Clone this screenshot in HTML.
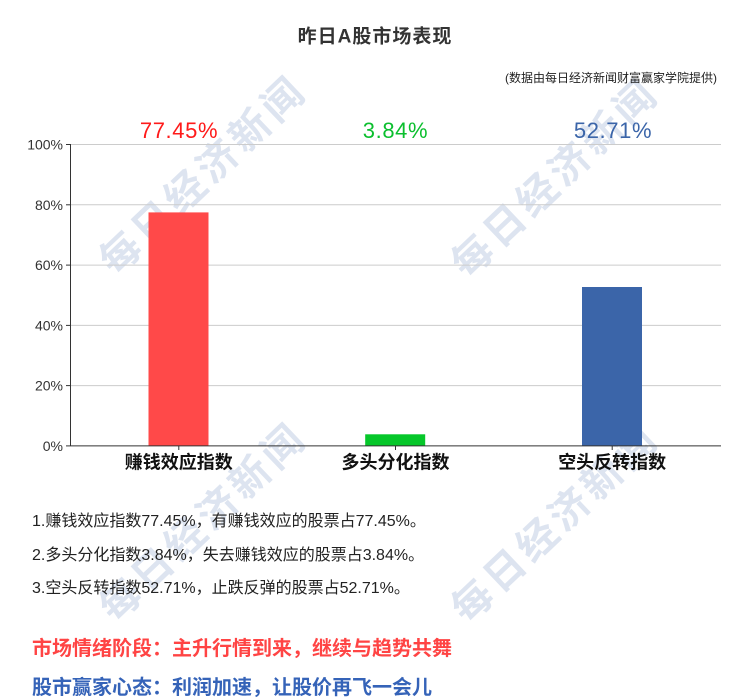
<!DOCTYPE html>
<html>
<head>
<meta charset="utf-8">
<style>
  html,body{margin:0;padding:0;background:#fff;}
  body{width:750px;height:699px;position:relative;overflow:hidden;
       font-family:"Liberation Sans","Noto Sans CJK SC",sans-serif;}
  svg{position:absolute;left:0;top:0;}
  .t{position:absolute;white-space:nowrap;}
  .line{left:32px;font-size:16px;line-height:20px;color:#222;}
  .big{left:32px;font-size:20px;line-height:24px;font-weight:bold;}
</style>
</head>
<body>
<svg width="750" height="699" viewBox="0 0 750 699" xmlns="http://www.w3.org/2000/svg">
  <!-- watermarks -->
  <g font-family="'Noto Sans CJK SC',sans-serif" font-weight="bold" font-size="40" fill="#dde4f0" text-anchor="middle" letter-spacing="4.6">
    <text x="0" y="14" transform="translate(203,175) rotate(-43.5)">每日经济新闻</text>
    <text x="0" y="14" transform="translate(555,178) rotate(-43.5)">每日经济新闻</text>
    <text x="0" y="14" transform="translate(203,522) rotate(-43.5)">每日经济新闻</text>
    <text x="0" y="14" transform="translate(555,523) rotate(-43.5)">每日经济新闻</text>
  </g>

  <!-- gridlines -->
  <g stroke="#cccccc" stroke-width="1">
    <line x1="70.5" y1="144.5" x2="721" y2="144.5"/>
    <line x1="70.5" y1="204.8" x2="721" y2="204.8"/>
    <line x1="70.5" y1="265.1" x2="721" y2="265.1"/>
    <line x1="70.5" y1="325.4" x2="721" y2="325.4"/>
    <line x1="70.5" y1="385.6" x2="721" y2="385.6"/>
  </g>

  <!-- bars -->
  <rect x="148.5" y="212.4" width="60" height="233.5" fill="#ff4949"/>
  <rect x="365.2" y="434.3" width="60" height="11.6" fill="#06c72a"/>
  <rect x="582" y="287" width="60" height="158.9" fill="#3b65a9"/>

  <!-- axes -->
  <g stroke="#333" stroke-width="1">
    <line x1="70.5" y1="144" x2="70.5" y2="446"/>
    <line x1="70.5" y1="445.9" x2="721" y2="445.9"/>
    <line x1="66" y1="144.5" x2="70.5" y2="144.5"/>
    <line x1="66" y1="204.8" x2="70.5" y2="204.8"/>
    <line x1="66" y1="265.1" x2="70.5" y2="265.1"/>
    <line x1="66" y1="325.4" x2="70.5" y2="325.4"/>
    <line x1="66" y1="385.6" x2="70.5" y2="385.6"/>
    <line x1="66" y1="445.9" x2="70.5" y2="445.9"/>
    <line x1="178.8" y1="446" x2="178.8" y2="450"/>
    <line x1="395.5" y1="446" x2="395.5" y2="450"/>
    <line x1="612.2" y1="446" x2="612.2" y2="450"/>
  </g>

  <!-- y labels -->
  <g font-family="'Liberation Sans',sans-serif" font-size="14" fill="#333" text-anchor="end">
    <text x="63" y="149.5">100%</text>
    <text x="63" y="209.8">80%</text>
    <text x="63" y="270.1">60%</text>
    <text x="63" y="330.4">40%</text>
    <text x="63" y="390.6">20%</text>
    <text x="63" y="450.9">0%</text>
  </g>

  <!-- category labels -->
  <g font-family="'Liberation Sans','Noto Sans CJK SC',sans-serif" font-size="18" font-weight="bold" fill="#111" text-anchor="middle">
    <text x="178.8" y="468.5">赚钱效应指数</text>
    <text x="395.5" y="468.5">多头分化指数</text>
    <text x="612.2" y="468.5">空头反转指数</text>
  </g>

  <!-- value labels -->
  <g font-family="'Liberation Sans',sans-serif" font-size="22" text-anchor="middle" letter-spacing="0.6">
    <text x="179" y="138" fill="#ff1a1a">77.45%</text>
    <text x="395.5" y="138" fill="#0bbf2e">3.84%</text>
    <text x="613" y="138" fill="#3b65a9">52.71%</text>
  </g>

  <!-- title -->
  <text x="375" y="42.5" text-anchor="middle" font-family="'Liberation Sans','Noto Sans CJK SC',sans-serif" font-size="19" font-weight="bold" fill="#333" letter-spacing="1">昨日A股市场表现</text>
  <!-- source -->
  <text x="717" y="82" text-anchor="end" font-family="'Liberation Sans','Noto Sans CJK SC',sans-serif" font-size="12" fill="#222">(数据由每日经济新闻财富赢家学院提供)</text>
</svg>

<div class="t line" style="top:512px;">1.赚钱效应指数77.45%，有赚钱效应的股票占77.45%。</div>
<div class="t line" style="top:546px;">2.多头分化指数3.84%，失去赚钱效应的股票占3.84%。</div>
<div class="t line" style="top:579px;">3.空头反转指数52.71%，止跌反弹的股票占52.71%。</div>
<div class="t big" style="top:637px;color:#ff4444;">市场情绪阶段：主升行情到来，继续与趋势共舞</div>
<div class="t big" style="top:676px;color:#3563b8;">股市赢家心态：利润加速，让股价再飞一会儿</div>
</body>
</html>
